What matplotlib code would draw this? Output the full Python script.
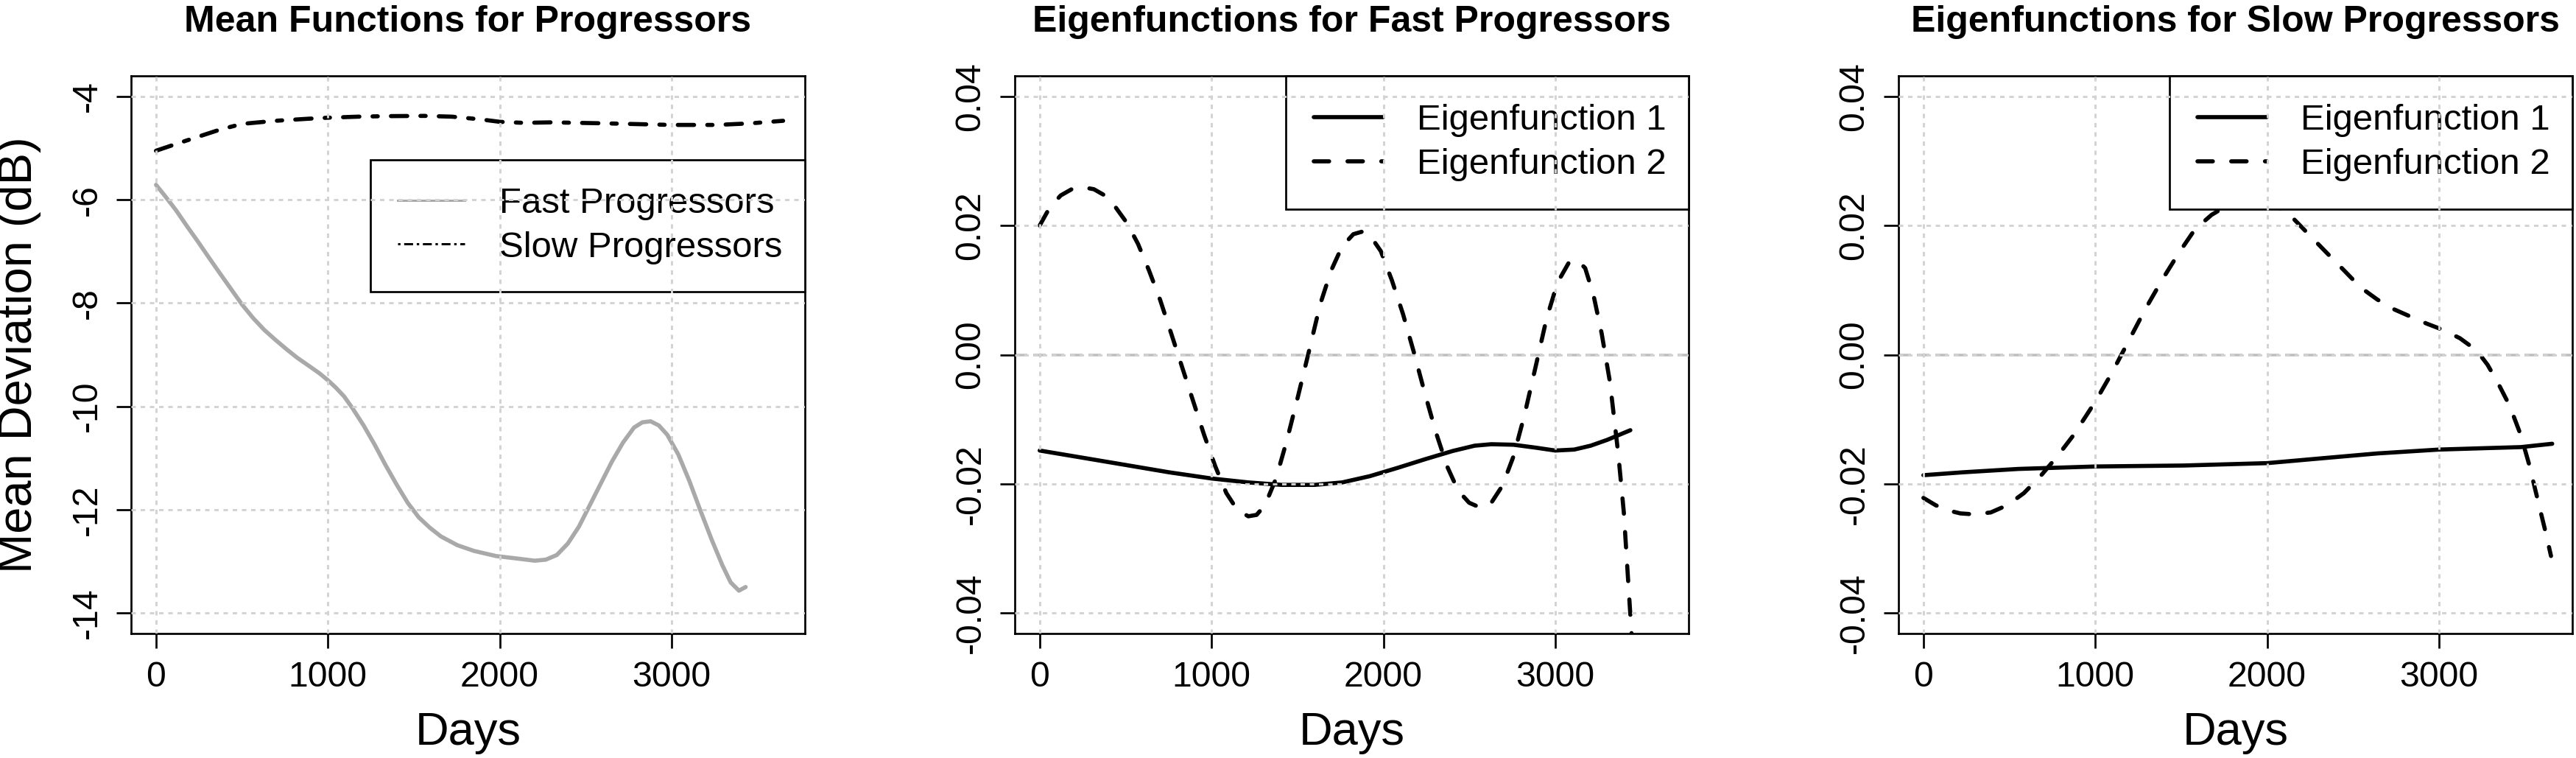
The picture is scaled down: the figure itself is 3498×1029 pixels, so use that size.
import matplotlib
matplotlib.use("Agg")
import matplotlib.pyplot as plt
from matplotlib.lines import Line2D

plt.rcParams['font.family'] = ['Liberation Sans', 'DejaVu Sans']
plt.rcParams['axes.unicode_minus'] = False
plt.rcParams['lines.scale_dashes'] = False

# ---- data ----
# panel 1: mean functions (dB)
fast_days = [0, 51, 116, 180, 244, 308, 373, 437, 501, 565, 630, 694, 758, 822, 887, 951,
             1002, 1047, 1095, 1144, 1208, 1272, 1336, 1401, 1465, 1529, 1593, 1658, 1754,
             1850, 1979, 2107, 2204, 2268, 2332, 2396, 2461, 2525, 2589, 2653, 2718, 2782,
             2830, 2878, 2926, 2975, 3039, 3103, 3167, 3232, 3296, 3344, 3392, 3431]
fast_mean = [-5.71, -5.92, -6.20, -6.51, -6.81, -7.12, -7.43, -7.73, -8.03, -8.29, -8.52,
             -8.71, -8.89, -9.06, -9.21, -9.36, -9.50, -9.64, -9.81, -10.04, -10.37, -10.74,
             -11.14, -11.52, -11.87, -12.15, -12.35, -12.52, -12.69, -12.80, -12.90, -12.95,
             -12.99, -12.97, -12.88, -12.66, -12.33, -11.91, -11.49, -11.07, -10.70, -10.41,
             -10.31, -10.29, -10.37, -10.55, -10.93, -11.44, -12.01, -12.57, -13.08, -13.41,
             -13.57, -13.50]
slow_days = [0, 116, 244, 373, 501, 694, 887, 1002, 1176, 1336, 1561, 1722, 1882, 2001,
             2140, 2300, 2621, 3000, 3263, 3456, 3649]
slow_mean = [-5.05, -4.92, -4.78, -4.64, -4.53, -4.47, -4.43, -4.41, -4.39, -4.38, -4.375,
             -4.39, -4.44, -4.49, -4.51, -4.50, -4.52, -4.55, -4.55, -4.52, -4.47]

# panel 2: eigenfunctions, fast progressors
fast_e1_days = [0, 251, 501, 752, 1002, 1214, 1407, 1600, 1760, 1921, 2082, 2242, 2403, 2531,
                2628, 2756, 2885, 3000, 3110, 3206, 3302, 3437]
fast_e1 = [-0.01485, -0.01597, -0.01709, -0.01822, -0.01919, -0.01979, -0.02017, -0.02017,
           -0.01979, -0.01882, -0.01754, -0.01620, -0.01492, -0.01410, -0.01387, -0.01395,
           -0.01440, -0.01485, -0.01470, -0.01410, -0.01320, -0.01170]
fast_e2_days = [0, 58, 122, 186, 251, 315, 379, 443, 508, 572, 636, 700, 765, 829, 893, 957,
                1022, 1086, 1150, 1214, 1262, 1311, 1375, 1439, 1503, 1568, 1632, 1696, 1760,
                1825, 1873, 1921, 1985, 2049, 2114, 2178, 2242, 2306, 2371, 2435, 2499, 2563,
                2628, 2692, 2756, 2820, 2885, 2949, 3013, 3077, 3126, 3174, 3222, 3270, 3318,
                3367, 3399, 3424, 3447]
fast_e2 = [0.02002, 0.02279, 0.02467, 0.02564, 0.02594, 0.02564, 0.02467, 0.02279, 0.02039,
           0.01717, 0.01305, 0.00855, 0.00330, -0.00195, -0.00720, -0.01245, -0.01732,
           -0.02144, -0.02407, -0.02504, -0.02482, -0.02332, -0.01919, -0.01320, -0.00645,
           0.00067, 0.00780, 0.01305, 0.01679, 0.01867, 0.01904, 0.01852, 0.01604, 0.01155,
           0.00630, 0.00030, -0.00607, -0.01207, -0.01732, -0.02107, -0.02294, -0.02369,
           -0.02294, -0.02032, -0.01582, -0.00945, -0.00195, 0.00555, 0.01117, 0.01417,
           0.01470, 0.01342, 0.00930, 0.00330, -0.00420, -0.01545, -0.02444, -0.03494, -0.04450]

# panel 3: eigenfunctions, slow progressors
slow_e1_days = [0, 231, 553, 1002, 1516, 2001, 2319, 2641, 3000, 3283, 3476, 3659]
slow_e1 = [-0.01867, -0.01822, -0.01770, -0.01732, -0.01717, -0.01680, -0.01605, -0.01530,
           -0.01470, -0.01447, -0.01432, -0.01380]
slow_e2_days = [0, 71, 135, 215, 296, 392, 488, 585, 681, 777, 874, 1002, 1099, 1195, 1291,
                1388, 1484, 1580, 1677, 1757, 1870, 1960, 2062, 2159, 2255, 2351, 2448, 2544,
                2641, 2737, 2833, 2930, 3026, 3122, 3219, 3283, 3347, 3412, 3476, 3524, 3572,
                3620, 3652]
slow_e2 = [-0.02219, -0.02332, -0.02407, -0.02459, -0.02474, -0.02444, -0.02332, -0.02144,
           -0.01882, -0.01582, -0.01245, -0.00720, -0.00270, 0.00217, 0.00705, 0.01155,
           0.01567, 0.01942, 0.02167, 0.02294, 0.02400, 0.02430, 0.02294, 0.02092, 0.01829,
           0.01567, 0.01305, 0.01042, 0.00855, 0.00705, 0.00592, 0.00480, 0.00382, 0.00255,
           0.00067, -0.00157, -0.00457, -0.00795, -0.01245, -0.01694, -0.02219, -0.02744,
           -0.03119]

titles = ['Mean Functions for Progressors', 'Eigenfunctions for Fast Progressors',
          'Eigenfunctions for Slow Progressors']
x_ticks = [0, 1000, 2000, 3000]
mean_ticks = [-14, -12, -10, -8, -6, -4]
eig_ticks = [-0.04, -0.02, 0.00, 0.02, 0.04]

# ---- layout ----
W, H = 3498, 1029
fig = plt.figure(figsize=(W / 300, H / 300), dpi=300)
lefts = [178, 1378, 2578]
axes = [fig.add_axes([l / W, (H - 860) / H, 915 / W, 757 / H]) for l in lefts]

LW = 1.35
GRID = '#D3D3D3'


def style(ax, title, yticks, ylabels, ylim):
    ax.set_xlim(-145, 3776)
    ax.set_ylim(*ylim)
    ax.set_xticks(x_ticks)
    ax.set_xticklabels([str(t) for t in x_ticks])
    ax.set_yticks(yticks)
    ax.set_yticklabels(ylabels, rotation=90, va='center')
    ax.tick_params(direction='out', length=4.8, width=0.65, labelsize=11.6, pad=4.2)
    for s in ax.spines.values():
        s.set_linewidth(0.65)
    # dotted grid drawn on top of everything, as in the original
    for t in x_ticks:
        ax.axvline(t, color=GRID, lw=0.7, ls=(0, (1.45, 1.55)), zorder=10)
    for t in yticks:
        ax.axhline(t, color=GRID, lw=0.7, ls=(0, (1.45, 1.55)), zorder=10)
    ax.set_title(title, fontsize=12, fontweight='bold', pad=14.4)
    ax.set_xlabel('Days', fontsize=15.2)
    ax.xaxis.set_label_coords(0.5, -0.1387)
    ax.xaxis.label.set_va('top')


dashdot = (0, (5.3, 4.3, 1.7, 4.3))
dashed = (0, (5.0, 6.0))

# panel 1
ax = axes[0]
ax.plot(fast_days, fast_mean, color='#A9A9A9', lw=LW, solid_capstyle='round',
        solid_joinstyle='round', zorder=2)
ax.plot(slow_days, slow_mean, color='black', lw=LW, ls=dashdot, dash_capstyle='round', zorder=2)
style(ax, titles[0], mean_ticks, [str(t) for t in mean_ticks], (-14.4, -3.6))
ax.set_ylabel('Mean Deviation (dB)', fontsize=15.6)
ax.yaxis.set_label_coords(-0.1333, 0.5)
h1 = [Line2D([], [], color='#A9A9A9', lw=0.72),
      Line2D([], [], color='black', lw=0.72, ls=(0, (0.8, 1.2, 2.9, 1.2)))]
leg = ax.legend(h1, ['Fast Progressors', 'Slow Progressors'], loc='upper left',
                bbox_to_anchor=(0.3552, 0.0, 0.6448, 0.8494), mode='expand',
                borderaxespad=0, fontsize=11.8, handlelength=1.86, handletextpad=0.94,
                labelspacing=0.3, borderpad=0.75, fancybox=False, framealpha=1,
                edgecolor='black')
leg.get_frame().set_linewidth(0.65)
leg.set_zorder(5)

eig_labels = ['%.2f' % t for t in eig_ticks]
panels = [(fast_e1_days, fast_e1, fast_e2_days, fast_e2),
          (slow_e1_days, slow_e1, slow_e2_days, slow_e2)]
for ax, title, (d1, e1, d2, e2) in zip(axes[1:], titles[1:], panels):
    ax.axhline(0, color='#BEBEBE', lw=0.85, ls=(0, (4.1, 1.9)), zorder=1)
    l1, = ax.plot(d1, e1, color='black', lw=LW, solid_capstyle='round', zorder=2)
    l2, = ax.plot(d2, e2, color='black', lw=LW, ls=dashed, dash_capstyle='round', zorder=2)
    style(ax, title, eig_ticks, eig_labels, (-0.0432, 0.0432))
    leg = ax.legend([l1, l2], ['Eigenfunction 1', 'Eigenfunction 2'], loc='upper left',
                    bbox_to_anchor=(0.402, 0.0, 0.598, 1.0), mode='expand',
                    borderaxespad=0, fontsize=11.8, handlelength=1.9, handletextpad=0.94,
                    labelspacing=0.3, borderpad=0.78, fancybox=False, framealpha=1,
                    edgecolor='black')
    leg.get_frame().set_linewidth(0.65)
    leg.set_zorder(5)

fig.savefig('out.png', dpi=300)
